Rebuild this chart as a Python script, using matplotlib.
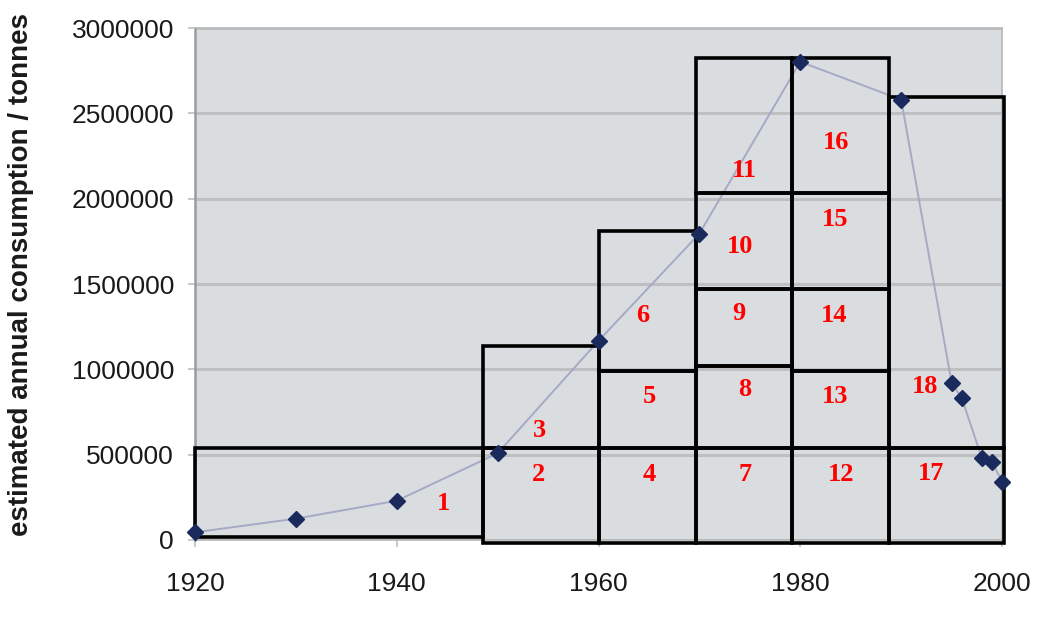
import matplotlib.pyplot as plt
from matplotlib.patches import Rectangle
from matplotlib.ticker import FuncFormatter

# consumption series
years = [1920, 1930, 1940, 1950, 1960, 1970, 1980, 1990, 1995, 1996, 1998, 1999, 2000]
tonnes = [45000, 125000, 230000, 508000, 1167000, 1795000, 2802000, 2580000,
          921000, 832000, 480000, 457000, 342000]

# overlaid boxes: left, right, bottom, top
box_x0 = [1920, 1948.6, 1948.6, 1960, 1960, 1960, 1969.7, 1969.7, 1969.7, 1969.7, 1969.7,
          1979.2, 1979.2, 1979.2, 1979.2, 1979.2, 1988.8, 1988.8]
box_x1 = [1948.6, 1960, 1960, 1969.7, 1969.7, 1969.7, 1979.2, 1979.2, 1979.2, 1979.2, 1979.2,
          1988.8, 1988.8, 1988.8, 1988.8, 1988.8, 2000.2, 2000.2]
box_y0 = [19000, -20000, 537000, -20000, 537000, 988000, -20000, 537000, 1022000, 1470000, 2035000,
          -20000, 537000, 990000, 1470000, 2035000, -20000, 537000]
box_y1 = [537000, 537000, 1134000, 537000, 988000, 1812000, 537000, 1022000, 1470000, 2035000, 2822000,
          537000, 990000, 1470000, 2035000, 2822000, 537000, 2596000]

# label positions for box numbers
lab_x = [1944.6, 1954.1, 1954.1, 1965.0, 1965.0, 1964.4, 1974.5, 1974.5, 1973.9, 1974.0, 1974.5,
         1984.0, 1983.4, 1983.4, 1983.5, 1983.5, 1993.0, 1992.4]
lab_y = [212000, 386000, 644000, 386000, 838000, 1318000, 386000, 879000, 1325000, 1719000, 2163000,
         386000, 838000, 1318000, 1880000, 2327000, 391000, 899000]

fig = plt.figure(figsize=(10.37, 6.17), dpi=100)
ax = fig.add_axes([0.188, 0.1248, 0.7783, 0.8298])
ax.set_facecolor('#dadddf')

ax.plot(years, tonnes, color='#a6a9c6', lw=1.4, zorder=3, clip_on=False)

for i in range(len(box_x0)):
    r = Rectangle((box_x0[i], box_y0[i]), box_x1[i] - box_x0[i], box_y1[i] - box_y0[i],
                  fill=False, edgecolor='black', lw=2.6, zorder=4, clip_on=False)
    ax.add_patch(r)

ax.plot(years, tonnes, 'D', color='#1b2a5c', ms=8, mec='#1b2a5c', zorder=5,
        linestyle='none', clip_on=False)

for i in range(len(lab_x)):
    ax.text(lab_x[i], lab_y[i], str(i + 1), color='#ff0000', fontsize=19,
            fontweight='bold', family='Liberation Serif', ha='center', va='center', zorder=6)

ax.set_xlim(1920, 2000)
ax.set_ylim(0, 3000000)
ax.set_xticks([1920, 1940, 1960, 1980, 2000])
ax.set_yticks(range(0, 3000001, 500000))
ax.yaxis.set_major_formatter(FuncFormatter(lambda v, p: '%d' % v))
ax.yaxis.grid(True, color='#bdbfc0', lw=2.2)
ax.set_axisbelow(True)

for s in ax.spines.values():
    s.set_color('#b5b7b8')
    s.set_linewidth(1.2)
ax.spines['left'].set_color('#9a9c9d')
ax.spines['left'].set_linewidth(1.8)

ax.tick_params(axis='both', colors='#bdbfc0', length=5, width=1.2, labelcolor='#1a1a1a',
               labelsize=19)
ax.tick_params(axis='x', pad=18)
ax.tick_params(axis='y', pad=10)
for lab in ax.get_xticklabels() + ax.get_yticklabels():
    lab.set_family('Liberation Sans')

ax.set_ylabel('estimated annual consumption / tonnes', fontsize=20, fontweight='bold',
              family='Liberation Sans', color='#1a1a1a')
ax.yaxis.set_label_coords(-0.2, 0.518)

fig.savefig('out.png', dpi=100)
